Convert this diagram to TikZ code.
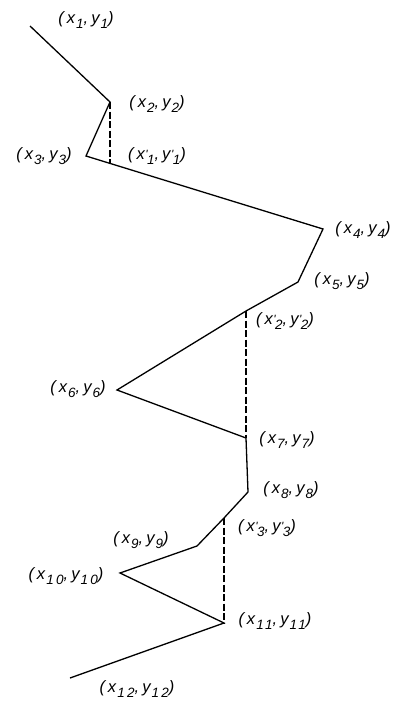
\documentclass[tikz,border=0pt]{standalone}
\usepackage{fontspec}
\setmainfont{Liberation Sans}
\newfontfamily\labfont[LetterSpace=18]{Liberation Sans}
\usetikzlibrary{positioning}
\newcommand{\sbs}[1]{\kern1pt\raisebox{-4.5pt}{\fontsize{13.5}{13.5}\selectfont#1}}
\newcommand{\prm}{\kern0.5pt\raisebox{1pt}{\fontsize{12}{12}\selectfont'}\kern-1.5pt}
\newcommand{\crd}[1]{(x\sbs{#1},y\sbs{#1})}
\newcommand{\crdp}[1]{(x\prm\sbs{#1},y\prm\sbs{#1})}

\begin{document}
\begin{tikzpicture}[x=1pt, y=-1pt,
    lbl/.style={font=\labfont\itshape\fontsize{16.5}{18}\selectfont, inner sep=0pt},
    outline/.style={line width=1.3pt, line join=miter},
    drop/.style={line width=1.3pt, dash pattern=on 7pt off 2.5pt}]
    \useasboundingbox (0,0) rectangle (397,702);
    % corner points of the line
    \coordinate (p1) at (30,26);
    \coordinate (p2) at (110,102);
    \coordinate (p3) at (86,156);
    \coordinate (p4) at (323,229);
    \coordinate (p5) at (298,282);
    \coordinate (p6) at (117,390);
    \coordinate (p7) at (246,438);
    \coordinate (p8) at (248,492);
    \coordinate (p9) at (197,546);
    \coordinate (p10) at (120,573);
    \coordinate (p11) at (224,623);
    \coordinate (p12) at (70,678);
    % feet of the dashed lines
    \coordinate (q1) at (110,163.4);
    \coordinate (q2) at (246,311);
    \coordinate (q3) at (224,518);
    \draw[outline] (p1) -- (p2) -- (p3) -- (q1) -- (p4) -- (p5) -- (q2) -- (p6)
        -- (p7) -- (p8) -- (q3) -- (p9) -- (p10) -- (p11) -- (p12);
    \draw[drop] (p2) -- (q1);
    \draw[drop] (q2) -- (p7);
    \draw[drop] (q3) -- (p11);
    % labels
    \node[lbl] (l1) at (86,20) {\crd{1}};
    \node[lbl] (l2) at (157,104) {\crd{2}};
    \node[lbl] (l3) at (44,156) {\crd{3}};
    \node[lbl] (lq1) at (157,156) {\crdp{1}};
    \node[lbl] (l4) at (363,230) {\crd{4}};
    \node[lbl] (l5) at (342,281) {\crd{5}};
    \node[lbl] (lq2) at (285,321) {\crdp{2}};
    \node[lbl] (l6) at (78,389) {\crd{6}};
    \node[lbl] (l7) at (287,440) {\crd{7}};
    \node[lbl] (l8) at (291,490) {\crd{8}};
    \node[lbl] (lq3) at (267,528) {\crdp{3}};
    \node[lbl] (l9) at (141,540) {\crd{9}};
    \node[lbl] (l10) at (66,576) {\crd{10}};
    \node[lbl] (l11) at (275,621) {\crd{11}};
    \node[lbl] (l12) at (137,689) {\crd{12}};
\end{tikzpicture}
\end{document}
